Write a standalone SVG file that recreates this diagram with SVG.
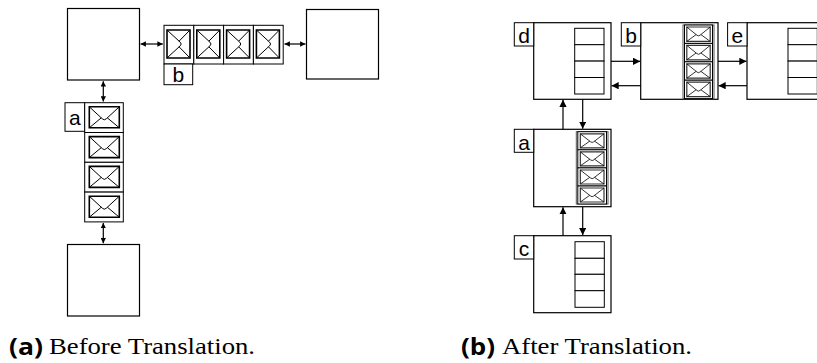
<svg xmlns="http://www.w3.org/2000/svg" xmlns:xlink="http://www.w3.org/1999/xlink" width="817" height="363" viewBox="0 0 817 363">
<style>
.box{fill:#fff;stroke:#000;stroke-width:1.2}
.cell{fill:#fff;stroke:#000;stroke-width:1}
.lbl{font-family:"Liberation Sans",Arial,sans-serif;font-size:21px;fill:#000;text-anchor:middle}
.con{stroke:#000;stroke-width:1.2;fill:none}
.cap{font-family:"Liberation Serif","Times New Roman",serif;font-size:24px;fill:#000}
.capb{font-family:"Open Sans","Liberation Sans",sans-serif;font-weight:700;font-size:23px;fill:#000}
</style>
<defs>
<symbol id="env" viewBox="0 0 30 21" preserveAspectRatio="none" overflow="visible">
<rect x="0" y="0" width="30" height="21" fill="#fff" stroke="#000" stroke-width="1.6" vector-effect="non-scaling-stroke"/>
<path d="M0,0 L13,12 Q15,14 17,12 L30,0 M0,21 L12,11 M30,21 L18,11" fill="none" stroke="#000" stroke-width="1" vector-effect="non-scaling-stroke"/>
</symbol>
<symbol id="envS" viewBox="0 0 30 21" preserveAspectRatio="none" overflow="visible">
<rect x="0" y="0" width="30" height="21" fill="#fff" stroke="#333" stroke-width="1.2" vector-effect="non-scaling-stroke"/>
<path d="M0,0 L13,12 Q15,14 17,12 L30,0 M0,21 L12,11 M30,21 L18,11" fill="none" stroke="#000" stroke-width="0.8" vector-effect="non-scaling-stroke"/>
</symbol>
<symbol id="envR" viewBox="0 0 21 30" preserveAspectRatio="none" overflow="visible">
<rect x="0" y="0" width="21" height="30" fill="#fff" stroke="#000" stroke-width="1.6" vector-effect="non-scaling-stroke"/>
<path d="M0,0 L12,13 Q14,15 12,17 L0,30 M21,0 L11,12 M21,30 L11,18" fill="none" stroke="#000" stroke-width="1" vector-effect="non-scaling-stroke"/>
</symbol>
<marker id="ah" viewBox="0 0 10 10" refX="10" refY="5" markerWidth="4.5" markerHeight="4.5" orient="auto-start-reverse" markerUnits="strokeWidth">
<path d="M0,0 L10,5 L0,10 z" fill="#000"/>
</marker>
<marker id="ahb" viewBox="0 0 10 10" refX="10" refY="5" markerWidth="6" markerHeight="6" orient="auto" markerUnits="strokeWidth">
<path d="M0,0 L10,5 L0,10 z" fill="#000"/>
</marker>
</defs>

<!-- Panel (a) -->
<g id="a-box-top-left"><rect class="box" x="67.5" y="8.5" width="72" height="71.5"/></g>
<g id="a-box-top-right"><rect class="box" x="306.5" y="9.5" width="72" height="69.5"/></g>
<g id="a-box-bottom"><rect class="box" x="67.5" y="244.5" width="72" height="71.5"/></g>

<g id="a-queue-b">
<rect class="cell" x="164" y="25.3" width="29.8" height="38.7"/>
<rect class="cell" x="193.8" y="25.3" width="29.8" height="38.7"/>
<rect class="cell" x="223.6" y="25.3" width="29.8" height="38.7"/>
<rect class="cell" x="253.4" y="25.3" width="29.8" height="38.7"/>
<use xlink:href="#envR" x="167" y="30" width="23" height="28"/>
<use xlink:href="#envR" x="196.8" y="30" width="23" height="28"/>
<use xlink:href="#envR" x="226.6" y="30" width="23" height="28"/>
<use xlink:href="#envR" x="256.4" y="30" width="23" height="28"/>
<rect class="cell" x="164" y="64" width="28.7" height="20.7"/>
<text class="lbl" x="178.4" y="82.3">b</text>
</g>

<g id="a-queue-a">
<rect class="cell" x="65" y="102.7" width="19.7" height="28.6"/>
<text class="lbl" x="74.9" y="125.2">a</text>
<rect class="cell" x="84.7" y="102.7" width="38.6" height="29.8"/>
<rect class="cell" x="84.7" y="132.5" width="38.6" height="29.8"/>
<rect class="cell" x="84.7" y="162.3" width="38.6" height="29.8"/>
<rect class="cell" x="84.7" y="192.1" width="38.6" height="29.8"/>
<use xlink:href="#env" x="89.3" y="106.8" width="30" height="21"/>
<use xlink:href="#env" x="89.3" y="136.6" width="30" height="21"/>
<use xlink:href="#env" x="89.3" y="166.4" width="30" height="21"/>
<use xlink:href="#env" x="89.3" y="196.2" width="30" height="21"/>
</g>

<!-- Panel (b) -->
<g id="b-node-d">
<rect class="box" x="533.7" y="22.7" width="77.3" height="76.6"/>
<rect class="cell" x="514.3" y="22.7" width="19.4" height="23.3"/>
<text class="lbl" x="524" y="43.3">d</text>
<rect class="cell" x="574.7" y="28.3" width="29.3" height="16.4"/>
<rect class="cell" x="574.7" y="44.7" width="29.3" height="16.4"/>
<rect class="cell" x="574.7" y="61.1" width="29.3" height="16.4"/>
<rect class="cell" x="574.7" y="77.5" width="29.3" height="16.5"/>
</g>

<g id="b-node-b">
<rect class="box" x="640.7" y="22.7" width="77.3" height="76.6"/>
<rect class="cell" x="621.3" y="22.7" width="19.4" height="23.3"/>
<text class="lbl" x="631" y="43.3">b</text>
<rect x="683" y="25" width="31" height="73.7" fill="#fff" stroke="#555" stroke-width="1"/>
<rect class="cell" x="684.5" y="25" width="28" height="18.4"/>
<rect class="cell" x="684.5" y="43.4" width="28" height="18.4"/>
<rect class="cell" x="684.5" y="61.8" width="28" height="18.4"/>
<rect class="cell" x="684.5" y="80.2" width="28" height="18.4"/>
<use xlink:href="#envS" x="686.8" y="27" width="23.4" height="14.4"/>
<use xlink:href="#envS" x="686.8" y="45.4" width="23.4" height="14.4"/>
<use xlink:href="#envS" x="686.8" y="63.8" width="23.4" height="14.4"/>
<use xlink:href="#envS" x="686.8" y="82.2" width="23.4" height="14.4"/>
</g>

<g id="b-node-e">
<rect class="box" x="747" y="22.7" width="77.3" height="76.6"/>
<rect class="cell" x="727.6" y="22.7" width="19.4" height="23.3"/>
<text class="lbl" x="737.3" y="43.3">e</text>
<rect class="cell" x="788" y="28.3" width="29.3" height="16.4"/>
<rect class="cell" x="788" y="44.7" width="29.3" height="16.4"/>
<rect class="cell" x="788" y="61.1" width="29.3" height="16.4"/>
<rect class="cell" x="788" y="77.5" width="29.3" height="16.5"/>
</g>

<g id="b-node-a">
<rect class="box" x="533.7" y="129.3" width="77.3" height="77.4"/>
<rect class="cell" x="514.3" y="129.3" width="19.4" height="23"/>
<text class="lbl" x="524" y="149.6">a</text>
<rect x="576.3" y="131.7" width="31.7" height="72.3" fill="#fff" stroke="#555" stroke-width="1"/>
<rect class="cell" x="577.8" y="131.7" width="28.7" height="18.1"/>
<rect class="cell" x="577.8" y="149.8" width="28.7" height="18.1"/>
<rect class="cell" x="577.8" y="167.9" width="28.7" height="18.1"/>
<rect class="cell" x="577.8" y="186" width="28.7" height="18"/>
<use xlink:href="#envS" x="580.3" y="133.8" width="23.7" height="14"/>
<use xlink:href="#envS" x="580.3" y="151.9" width="23.7" height="14"/>
<use xlink:href="#envS" x="580.3" y="170" width="23.7" height="14"/>
<use xlink:href="#envS" x="580.3" y="188" width="23.7" height="14"/>
</g>

<g id="b-node-c">
<rect class="box" x="533.7" y="235.7" width="77.3" height="77"/>
<rect class="cell" x="514.3" y="235.7" width="19.4" height="23.3"/>
<text class="lbl" x="524" y="256.3">c</text>
<rect class="cell" x="575" y="241.7" width="29.3" height="16.6"/>
<rect class="cell" x="575" y="258.3" width="29.3" height="16"/>
<rect class="cell" x="575" y="274.3" width="29.3" height="16.4"/>
<rect class="cell" x="575" y="290.7" width="29.3" height="16.6"/>
</g>

<g id="connectors">
<line class="con" x1="140.5" y1="44" x2="162.8" y2="44" marker-start="url(#ah)" marker-end="url(#ah)"/>
<line class="con" x1="284.5" y1="44" x2="305.5" y2="44" marker-start="url(#ah)" marker-end="url(#ah)"/>
<line class="con" x1="103.3" y1="81.2" x2="103.3" y2="101.6" marker-start="url(#ah)" marker-end="url(#ah)"/>
<line class="con" x1="103.3" y1="223" x2="103.3" y2="243.3" marker-start="url(#ah)" marker-end="url(#ah)"/>

<line class="con" x1="611" y1="61.3" x2="640.2" y2="61.3" marker-end="url(#ahb)"/>
<line class="con" x1="640.7" y1="85.7" x2="611.5" y2="85.7" marker-end="url(#ahb)"/>
<line class="con" x1="718" y1="61.3" x2="746.5" y2="61.3" marker-end="url(#ahb)"/>
<line class="con" x1="747" y1="85.7" x2="718.5" y2="85.7" marker-end="url(#ahb)"/>
<line class="con" x1="563" y1="129.3" x2="563" y2="99.8" marker-end="url(#ahb)"/>
<line class="con" x1="582.7" y1="99.3" x2="582.7" y2="128.8" marker-end="url(#ahb)"/>
<line class="con" x1="563" y1="235.7" x2="563" y2="207.2" marker-end="url(#ahb)"/>
<line class="con" x1="582.7" y1="206.7" x2="582.7" y2="235.2" marker-end="url(#ahb)"/>
</g>

<g id="captions">
<text class="capb" x="9" y="355" textLength="34" lengthAdjust="spacingAndGlyphs">(a)</text>
<text class="cap" x="49" y="354" textLength="206" lengthAdjust="spacingAndGlyphs">Before Translation.</text>
<text class="capb" x="461" y="355" textLength="34" lengthAdjust="spacingAndGlyphs">(b)</text>
<text class="cap" x="502" y="354" textLength="190" lengthAdjust="spacingAndGlyphs">After Translation.</text>
</g>
</svg>
